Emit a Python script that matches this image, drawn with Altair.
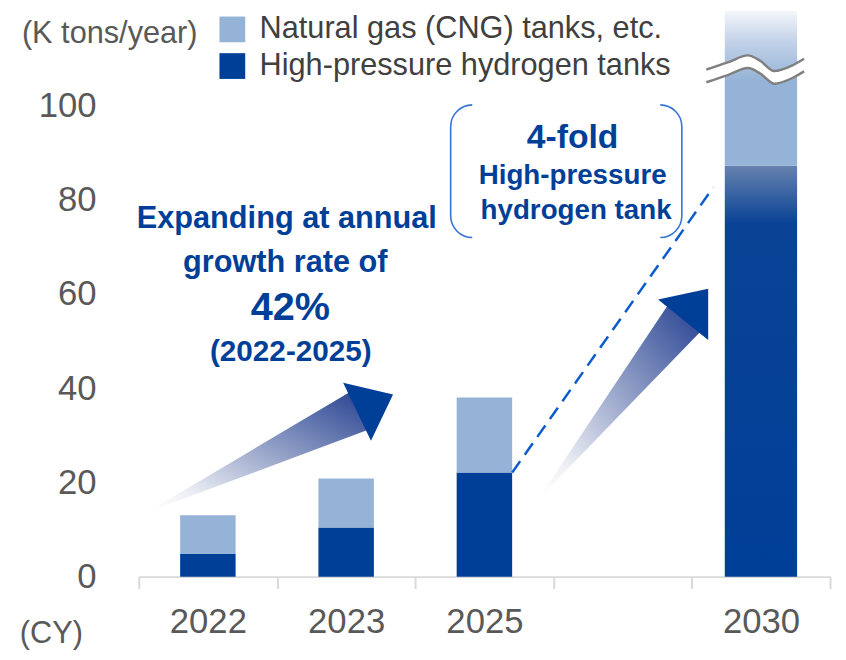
import altair as alt
import pandas as pd

# ---------------- data ----------------
years = ["2022", "2023", "2025", "2030"]
hydrogen = [4.8, 10.4, 22.1, 87.2]
cng = [8.2, 10.4, 15.9, 32.8]
series_names = ["Natural gas (CNG) tanks, etc.", "High-pressure hydrogen tanks"]
slots = ["2022", "2023", "2025", " ", "2030"]
y_ticks = [0, 20, 40, 60, 80, 100]

# annotation texts (x in category-slot units, y in data units)
note_text = ["Expanding at annual", "growth rate of", "42%", "(2022-2025)",
             "4-fold", "High-pressure", "hydrogen tank"]
note_x = [1.071, 1.060, 1.096, 1.100, 3.138, 3.138, 3.163]
note_y = [74.05, 64.6, 54.43, 45.67, 90.9, 83.3, 75.8]
note_fs = [31, 31, 40, 30, 34, 28, 28]

unit_text = ["(K tons/year)", "(CY)"]
unit_x = [-0.845, -0.86]
unit_y = [113.3, -14.0]

# growth arrows
arrow_tail_x = [0.095, 2.913]
arrow_tail_y = [14.14, 17.30]
arrow_end_x = [1.580, 3.936]
arrow_end_y = [34.99, 54.49]
arrow_width = [0, 42]
head_x = [1.709, 4.028]
head_y = [36.82, 57.79]
head_angle = [64.4, 38.9]

# dashed guide from 2025 hydrogen top
dash_x = [2.701, 4.155]
dash_y = [22.1, 82.6]

# bracket box
box_x = [2.256, 3.928]
box_y = [71.94, 100.1]
cover_x = [2.412, 3.772]
cover_top = [99.0, 101.3]
cover_bot = [70.8, 73.1]

# axis break wave
wave_x = [4.105, 4.260, 4.405, 4.497, 4.595, 4.728, 4.812]
wave_upper = [107.6, 109.1, 110.6, 109.4, 107.3, 108.5, 109.9]
wave_lower = [104.9, 106.4, 107.9, 106.7, 104.6, 105.8, 107.2]

FONT = "Liberation Sans"
NAVY = "#003f98"
LIGHT = "#95b3d7"
GRAY = "#595959"

# ---------------- tables ----------------
rows = []
for yr, h, c in zip(years, hydrogen, cng):
    rows.append({"year": yr, "series": series_names[1], "sid": 1, "start": 0, "end": h})
    rows.append({"year": yr, "series": series_names[0], "sid": 0, "start": h, "end": h + c})
bars = pd.DataFrame(rows)

notes = pd.DataFrame({"t": note_text, "x": note_x, "y": note_y, "fs": note_fs})
units = pd.DataFrame({"t": unit_text, "x": unit_x, "y": unit_y})

trail_rows = []
for i in range(2):
    trail_rows.append({"a": i, "x": arrow_tail_x[i], "y": arrow_tail_y[i], "w": arrow_width[0]})
    trail_rows.append({"a": i, "x": arrow_end_x[i], "y": arrow_end_y[i], "w": arrow_width[1]})
trails = pd.DataFrame(trail_rows)
heads = pd.DataFrame({"x": head_x, "y": head_y, "ang": head_angle})
dash = pd.DataFrame({"x": dash_x, "y": dash_y})
box = pd.DataFrame({"x": [box_x[0]], "x2": [box_x[1]], "y": [box_y[0]], "y2": [box_y[1]]})
covers = pd.DataFrame({"x": [cover_x[0]] * 2, "x2": [cover_x[1]] * 2,
                       "y": [cover_top[0], cover_bot[0]], "y2": [cover_top[1], cover_bot[1]]})
wave = pd.DataFrame({"x": wave_x, "u": wave_upper, "l": wave_lower})

# ---------------- scales / encodings ----------------
yscale = alt.Scale(domain=[0, 120], nice=False, zero=False)
yaxis = alt.Axis(values=y_ticks, title=None, domain=False, ticks=False, tickSize=0,
                 grid=False, labelFontSize=35, labelColor=GRAY, labelFont=FONT,
                 labelPadding=43)

xband = alt.X(
    "year:N",
    scale=alt.Scale(domain=slots, paddingInner=0, paddingOuter=0),
    axis=alt.Axis(title=None, labelAngle=0, labelFontSize=35, labelColor=GRAY, labelFont=FONT,
                  domainColor="#d9d9d9", domainWidth=2, tickColor="#d9d9d9", tickWidth=2,
                  tickSize=12, tickBand="extent", labelPadding=16,
                  labelExpr="datum.label == ' ' ? '' : datum.label"),
)
ybar = alt.Y("start:Q", scale=yscale, axis=yaxis)


def xq(f):
    return alt.X(f"{f}:Q", scale=alt.Scale(domain=[0, 5], nice=False, zero=False), axis=None)


def yq(f):
    return alt.Y(f"{f}:Q", scale=yscale, axis=yaxis)


# ---------------- bars ----------------
base = alt.Chart(bars)
main = base.transform_filter("datum.year != '2030'").mark_bar(size=56).encode(
    x=xband, y=ybar, y2="end:Q",
    color=alt.Color("series:N", scale=alt.Scale(domain=series_names, range=[LIGHT, NAVY]),
                    legend=alt.Legend(title=None, orient="none", legendX=79, legendY=3,
                                      direction="vertical", symbolType="square", symbolSize=676,
                                      symbolStrokeWidth=0, symbolOpacity=1, labelFontSize=31,
                                      labelFont=FONT, labelColor="#404040", labelOffset=12,
                                      rowPadding=5, padding=0, labelLimit=800)),
)

grad_h = alt.LinearGradient(
    gradient="linear", x1=0, x2=0, y1=1, y2=0,
    stops=[alt.GradientStop(offset=0, color=NAVY),
           alt.GradientStop(offset=0.86, color="#0a4396"),
           alt.GradientStop(offset=1, color="#6782ae")])
grad_c = alt.LinearGradient(
    gradient="linear", x1=0, x2=0, y1=1, y2=0,
    stops=[alt.GradientStop(offset=0, color=LIGHT),
           alt.GradientStop(offset=0.55, color=LIGHT),
           alt.GradientStop(offset=0.8, color="#c2d2e8"),
           alt.GradientStop(offset=1, color="#f4f6fa")])

h30 = base.transform_filter("datum.year == '2030' && datum.sid == 1").mark_bar(
    size=73, color=grad_h).encode(x=xband, y=ybar, y2="end:Q")
c30 = base.transform_filter("datum.year == '2030' && datum.sid == 0").mark_bar(
    size=73, color=grad_c).encode(x=xband, y=ybar, y2="end:Q")

bar_group = alt.layer(main, h30, c30)

# ---------------- annotations ----------------
wave_fill = alt.Chart(wave).mark_area(color="white", interpolate="monotone").encode(
    x=xq("x"), y=yq("l"), y2="u:Q")
wave_up = alt.Chart(wave).mark_line(color="#808080", strokeWidth=2.5, interpolate="monotone").encode(
    x=xq("x"), y=yq("u"))
wave_lo = alt.Chart(wave).mark_line(color="#808080", strokeWidth=2.5, interpolate="monotone").encode(
    x=xq("x"), y=yq("l"))

grad_arrow = alt.LinearGradient(
    gradient="linear", x1=0, x2=1, y1=1, y2=0,
    stops=[alt.GradientStop(offset=0, color="#ffffff"),
           alt.GradientStop(offset=0.15, color="#eef0f5"),
           alt.GradientStop(offset=1, color="#1f3b8d")])
shafts = alt.Chart(trails).mark_trail(color=grad_arrow).encode(
    x=xq("x"), y=yq("y"), size=alt.Size("w:Q", scale=None), detail="a:N")
arrow_heads = alt.Chart(heads).mark_point(
    shape="M0,-0.62 L1,0.62 L-1,0.62 Z", filled=True, size=4225, color=NAVY, opacity=1,
    strokeWidth=0).encode(x=xq("x"), y=yq("y"), angle=alt.Angle("ang:Q", scale=None))

dashed = alt.Chart(dash).mark_line(color="#0a5ccc", strokeWidth=2.5, strokeDash=[14, 8]).encode(
    x=xq("x"), y=yq("y"))

bracket = alt.Chart(box).mark_rect(stroke="#3574d4", strokeWidth=1.6, fillOpacity=0,
                                   cornerRadius=22).encode(
    x=xq("x"), x2="x2:Q", y=yq("y"), y2="y2:Q")
bracket_cut = alt.Chart(covers).mark_rect(color="white").encode(
    x=xq("x"), x2="x2:Q", y=yq("y"), y2="y2:Q")

note_marks = alt.Chart(notes).mark_text(font=FONT, fontWeight="bold", color=NAVY,
                                        align="center", baseline="alphabetic").encode(
    x=xq("x"), y=yq("y"), text="t:N", size=alt.Size("fs:Q", scale=None))
unit_marks = alt.Chart(units).mark_text(font=FONT, color=GRAY, fontSize=31, align="left",
                                        baseline="alphabetic").encode(
    x=xq("x"), y=yq("y"), text="t:N")

annot_group = alt.layer(wave_fill, wave_up, wave_lo, shafts, arrow_heads, dashed,
                        bracket, bracket_cut, note_marks, unit_marks)

chart = alt.layer(bar_group, annot_group).resolve_scale(x="independent").properties(
    width=698, height=571,
    autosize=alt.AutoSizeParams(type="none"),
    padding={"left": 132, "top": 0, "right": 8, "bottom": 74},
).configure_view(stroke=None)

chart.save("out.html", embed_options={"renderer": "svg", "actions": False})
